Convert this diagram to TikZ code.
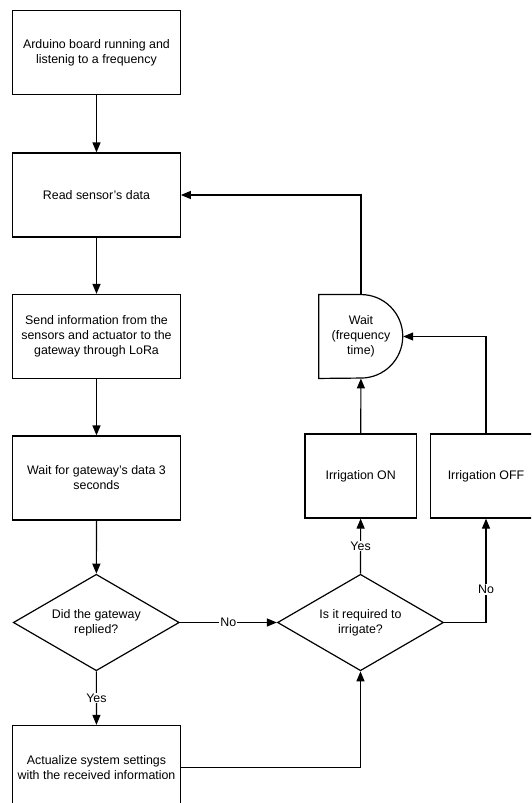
\documentclass[tikz,border=0pt]{standalone}
\usepackage{fontspec}
\setmainfont{Liberation Sans}
\usetikzlibrary{arrows.meta,shapes.geometric}
\begin{document}
\begin{tikzpicture}[x=1pt,y=1pt,
    font=\fontsize{12.4}{15}\selectfont,
    box/.style={draw,line width=1.2pt,minimum width=167.5pt,minimum height=84pt,inner sep=2pt,align=center},
    smallbox/.style={box,minimum width=111.5pt},
    decision/.style={draw,diamond,line width=1.2pt,minimum width=166pt,minimum height=96.5pt,shape aspect=1.7,inner sep=0pt,align=center},
    delaybox/.style={minimum width=84pt,minimum height=83.5pt,inner sep=0pt,align=center},
    lbl/.style={fill=white,inner sep=1pt}]
      \clip (0,0) rectangle (531,-803);
      \draw
        (96.5,-52.7) node[box] (run){Arduino board running and\\listenig to a frequency}
        (96.5,-195) node[box] (read){Read sensor's data}
        (96.5,-336.5) node[box] (send){Send information from the\\sensors and actuator to the\\gateway through LoRa}
        (96.5,-478) node[box] (waitgw){Wait for gateway's data 3\\seconds}
        (96.3,-622.5) node[decision] (replied){Did the gateway\\replied?}
        (96.5,-767.5) node[box] (update){Actualize system settings\\with the received information}
        (360.5,-622.5) node[decision] (irrigate){Is it required to\\irrigate?}
        (360.7,-476) node[smallbox] (on){Irrigation ON}
        (486,-476) node[smallbox] (off){Irrigation OFF}
        (361,-336.5) node[delaybox] (wait){Wait\\(frequency\\time)};
      \draw[line width=1.2pt] (wait.north west) -- (wait.north)
        arc[start angle=90,end angle=-90,radius=41.75pt] -- (wait.south west) -- cycle;
      \begin{scope}[-{Triangle[length=10pt,width=8pt]},line width=1.2pt]
        \draw (run) to (read);
        \draw (read) to (send);
        \draw (send) to (waitgw);
        \draw (waitgw) to (replied);
        \draw (replied) to node[lbl]{Yes} (update);
        \draw (replied) to node[lbl]{No} (irrigate);
        \draw (update) -| (irrigate);
        \draw (irrigate) to node[lbl]{Yes} (on);
        \draw (irrigate) -| node[lbl,pos=0.66]{No} (off);
        \draw (on) to (wait);
        \draw (off) |- (wait);
        \draw (wait) |- (read);
      \end{scope}
    \end{tikzpicture}
\end{document}
